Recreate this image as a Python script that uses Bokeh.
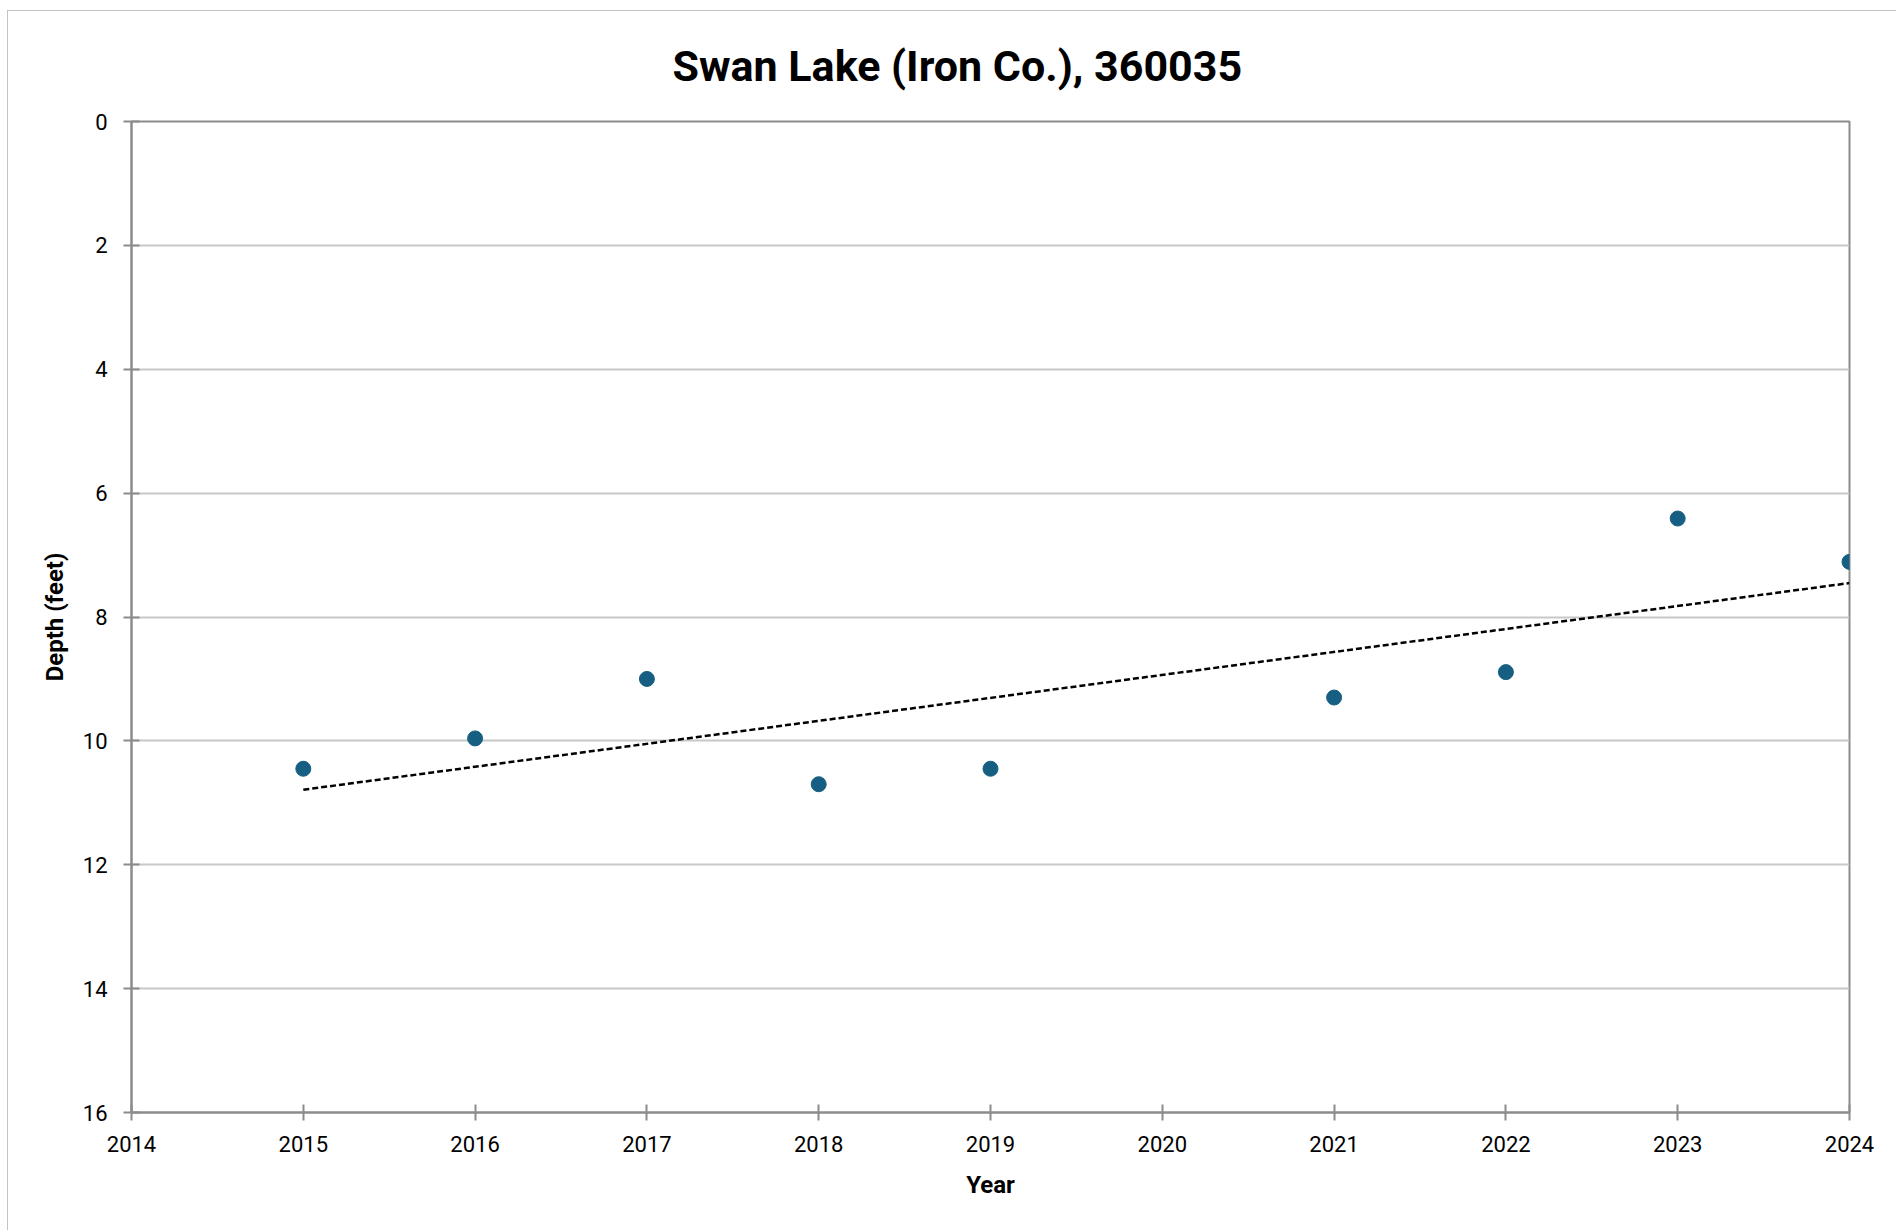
import numpy as np
from bokeh.plotting import figure
from bokeh.models import Range1d, FixedTicker, Title, ColumnDataSource
from bokeh.embed import file_html
from bokeh.resources import INLINE

years = [2015, 2016, 2017, 2018, 2019, 2021, 2022, 2023, 2024]
depth_ft = [10.45, 9.96, 9.0, 10.7, 10.45, 9.3, 8.89, 6.41, 7.11]
x_ticks = list(range(2014, 2025))
y_ticks = list(range(0, 17, 2))

FONT = "Roboto"
GRAY = "#8c8c8c"

p = figure(width=1895, height=1225, output_backend="svg", toolbar_location=None,
           x_range=Range1d(2014, 2024), y_range=Range1d(16, 0),
           min_border_left=123, min_border_right=54, min_border_top=2, min_border_bottom=124)
p.styles = {"border": "1px solid #c4c4c4", "margin-left": "7px", "margin-top": "10px"}

t = Title(text="Swan Lake (Iron Co.), 360035", align="left", vertical_align="top",
          text_font=FONT, text_font_size="43px", text_font_style="bold", text_color="black",
          standoff=58, offset=541)
p.add_layout(t, "above")

p.outline_line_color = GRAY
p.outline_line_width = 2
p.xgrid.visible = False
p.ygrid.grid_line_color = "#c8c8c8"
p.ygrid.grid_line_width = 2
p.ygrid.ticker = FixedTicker(ticks=y_ticks)

for ax in (p.xaxis[0], p.yaxis[0]):
    ax.axis_line_color = GRAY
    ax.axis_line_width = 2
    ax.major_tick_line_color = GRAY
    ax.major_tick_line_width = 2
    ax.major_tick_in = 8
    ax.major_tick_out = 8
    ax.minor_tick_line_color = None
    ax.major_label_text_font = FONT
    ax.major_label_text_font_size = "22px"
    ax.major_label_text_color = "black"
    ax.axis_label_text_font = FONT
    ax.axis_label_text_font_size = "24px"
    ax.axis_label_text_font_style = "bold"
    ax.axis_label_text_color = "black"

p.xaxis.ticker = FixedTicker(ticks=x_ticks)
p.yaxis.ticker = FixedTicker(ticks=y_ticks)
p.xaxis.axis_label = "Year"
p.yaxis.axis_label = "Depth (feet)"
p.xaxis.major_label_standoff = 15
p.yaxis.major_label_standoff = 16
p.xaxis.axis_label_standoff = 16
p.yaxis.axis_label_standoff = 11

# linear trend line fitted to the data
coef = np.polyfit(years, depth_ft, 1)
tx = [min(years), max(years)]
ty = [coef[0] * v + coef[1] for v in tx]
p.line(tx, ty, line_color="black", line_width=2.5, line_dash="6 3")

src = ColumnDataSource(dict(x=years, y=depth_ft))
p.scatter("x", "y", source=src, size=15, fill_color="#175f82", line_color="#175f82")

open("out.html", "w").write(file_html(p, INLINE))
